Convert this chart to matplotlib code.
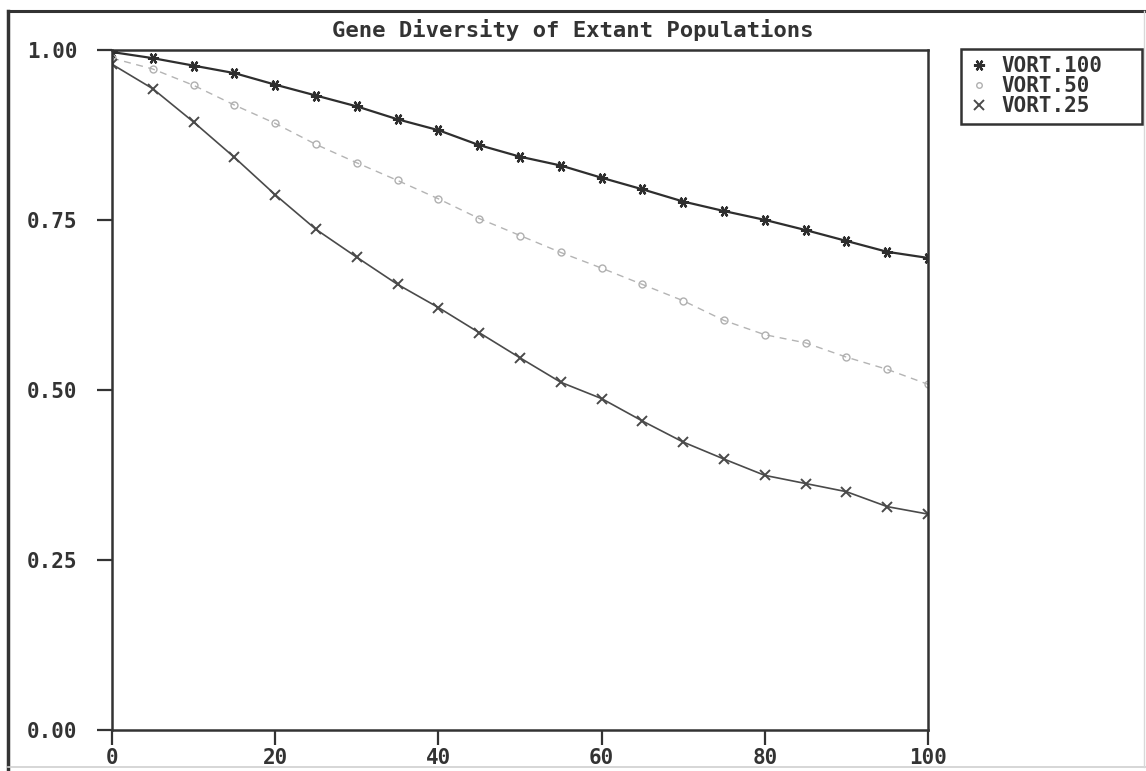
import numpy as np
import matplotlib
matplotlib.use('Agg')
import matplotlib.pyplot as plt
from matplotlib.lines import Line2D

plt.rcParams['font.family'] = ['DejaVu Sans Mono']
plt.rcParams['font.weight'] = 'bold'

# generations and gene diversity of the three scenarios
generations = [0, 5, 10, 15, 20, 25, 30, 35, 40, 45, 50,
               55, 60, 65, 70, 75, 80, 85, 90, 95, 100]

vort_100 = [0.997, 0.988, 0.977, 0.966, 0.949, 0.933, 0.917, 0.898, 0.882, 0.860, 0.843,
            0.830, 0.812, 0.795, 0.777, 0.763, 0.750, 0.735, 0.719, 0.703, 0.694]
vort_50 = [0.988, 0.972, 0.948, 0.919, 0.892, 0.861, 0.834, 0.808, 0.781, 0.752, 0.727,
           0.702, 0.679, 0.655, 0.631, 0.602, 0.581, 0.569, 0.548, 0.530, 0.508]
vort_25 = [0.979, 0.943, 0.894, 0.842, 0.787, 0.736, 0.695, 0.655, 0.621, 0.584, 0.547,
           0.511, 0.487, 0.454, 0.423, 0.398, 0.374, 0.362, 0.350, 0.328, 0.317]

series_names = ['VORT.100', 'VORT.50', 'VORT.25']
x_ticks = [0, 20, 40, 60, 80, 100]
y_ticks = [0.00, 0.25, 0.50, 0.75, 1.00]

W, H = 1146, 771
fig = plt.figure(figsize=(W / 100, H / 100), dpi=100)
ax = fig.add_axes([112 / W, 1 - 729.5 / H, 816 / W, 679.5 / H])

asterisk = (6, 2, 90)
ax.plot(generations, vort_100, color='#2e2e2e', lw=1.6,
        marker=asterisk, markersize=8, markeredgewidth=1.6, label=series_names[0])
ax.plot(generations, vort_50, color='#b4b4b4', lw=1.0, dashes=(5, 4),
        marker='o', markersize=5, markerfacecolor='none', markeredgecolor='#b0b0b0',
        markeredgewidth=1.0, label=series_names[1])
ax.plot(generations, vort_25, color='#4a4a4a', lw=1.2,
        marker='x', markersize=7, markeredgewidth=1.4, label=series_names[2])

ax.set_xlim(0, 100)
ax.set_ylim(0, 1)
ax.set_xticks(x_ticks)
ax.set_xticklabels([str(t) for t in x_ticks])
ax.set_yticks(y_ticks)
ax.set_yticklabels(['%.2f' % t for t in y_ticks])

for s in ax.spines.values():
    s.set_color('#333333')
    s.set_linewidth(1.8)
ax.tick_params(axis='both', direction='out', length=11, width=1.6, color='#333333',
               labelsize=15, labelcolor='#333333')
ax.tick_params(axis='x', pad=2)
ax.tick_params(axis='y', pad=14)

fig.text(0.5, 1 - 30 / H, 'Gene Diversity of Extant Populations',
         ha='center', va='center', fontsize=16, fontweight='bold', color='#333333')

handles = [
    Line2D([], [], ls='none', marker=asterisk, markersize=8, markeredgewidth=1.6, color='#2e2e2e'),
    Line2D([], [], ls='none', marker='o', markersize=4, markerfacecolor='none',
           markeredgecolor='#b0b0b0', markeredgewidth=1.0),
    Line2D([], [], ls='none', marker='x', markersize=7, markeredgewidth=1.4, color='#4a4a4a'),
]
leg = fig.legend(handles, series_names, loc='upper left', mode='expand',
                 bbox_to_anchor=(961 / W, 1 - 126 / H, 181 / W, 77 / H),
                 bbox_transform=fig.transFigure,
                 fontsize=15, frameon=True, fancybox=False, framealpha=1,
                 edgecolor='#333333', handlelength=1.0, handletextpad=0.6,
                 labelspacing=0.0, borderpad=0.35, borderaxespad=0)
leg.get_frame().set_linewidth(1.8)
for t in leg.get_texts():
    t.set_color('#333333')

# page border
fig.add_artist(Line2D([8 / W, 8 / W], [0, 1 - 11 / H], transform=fig.transFigure,
                      color='#333333', lw=2.5))
fig.add_artist(Line2D([8 / W, 1], [1 - 11 / H, 1 - 11 / H], transform=fig.transFigure,
                      color='#333333', lw=2.2))
fig.add_artist(Line2D([8 / W, 1], [1 - 767 / H, 1 - 767 / H], transform=fig.transFigure,
                      color='#d0d0d0', lw=1.2))
fig.add_artist(Line2D([1144 / W, 1144 / W], [1 - 767 / H, 1 - 11 / H], transform=fig.transFigure,
                      color='#d8d8d8', lw=1.0))

fig.savefig('out.png', dpi=100)
